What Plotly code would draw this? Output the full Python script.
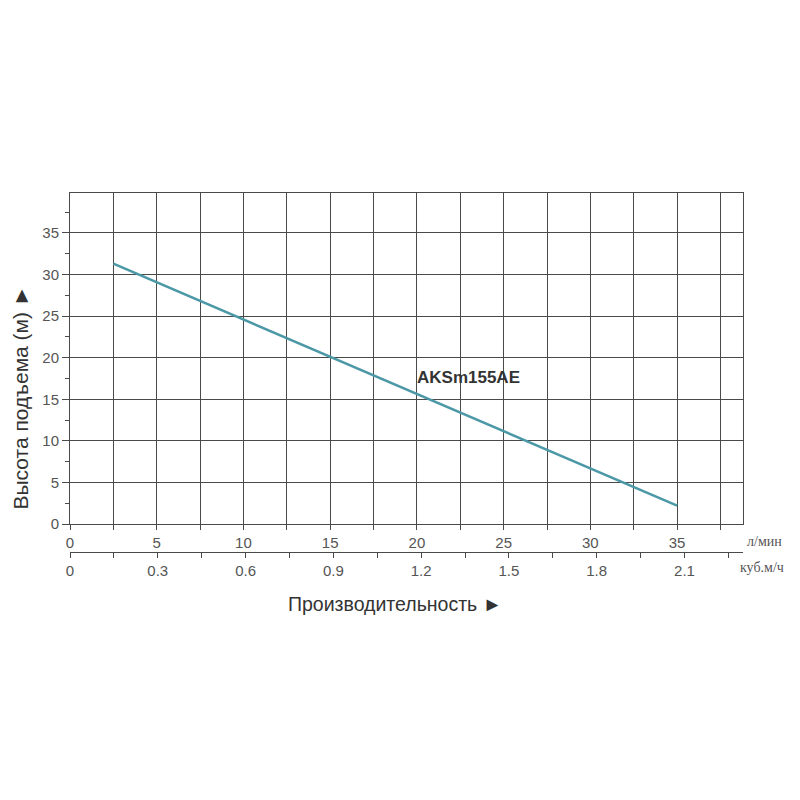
import plotly.graph_objects as go

# Data
flow_lpm = [2.5, 35]
head_m = [31.3, 2.2]
series_name = "AKSm155AE"
x_ticks_lpm = [0, 5, 10, 15, 20, 25, 30, 35]
x_ticks_m3h = ["0", "0.3", "0.6", "0.9", "1.2", "1.5", "1.8", "2.1"]
y_ticks = [0, 5, 10, 15, 20, 25, 30, 35]

GRID = "#4a4a4a"
TXT = "#555555"

x_max = 38.8
xvals = [i * 2.5 for i in range(16)]
xtext = [str(int(v)) if v % 5 == 0 else "" for v in xvals]
x2vals = [round(i * 0.15, 2) for i in range(16)]
x2text = []
for i in range(16):
    x2text.append(x_ticks_m3h[i // 2] if i % 2 == 0 else "")

fig = go.Figure()
fig.add_trace(go.Scatter(x=flow_lpm, y=head_m, mode="lines",
                         line=dict(color="#4b98a6", width=2.5),
                         showlegend=False, hoverinfo="skip"))
# invisible trace for secondary axis
fig.add_trace(go.Scatter(x=[0, 2.1], y=[None, None], xaxis="x2", yaxis="y",
                         mode="lines", showlegend=False, hoverinfo="skip"))

fig.update_layout(
    width=800, height=800,
    margin=dict(l=62, r=65, t=185, b=188, autoexpand=False),
    plot_bgcolor="white", paper_bgcolor="white",
    font=dict(family="Liberation Sans, Arial, sans-serif", color=TXT, size=15),
    xaxis=dict(range=[0, x_max], tickmode="array", tickvals=xvals, ticktext=xtext,
               showgrid=True, gridcolor=GRID, gridwidth=1,
               showline=True, linecolor=GRID, linewidth=1, mirror=True,
               ticks="outside", ticklen=5, tickcolor=GRID, zeroline=False,
               tickfont=dict(size=15, color=TXT)),
    xaxis2=dict(range=[0, x_max * 0.06 * 0.988], domain=[0, 0.988],
                overlaying="x", anchor="free", position=0.159, side="bottom",
                tickmode="array", tickvals=x2vals, ticktext=x2text,
                showgrid=False, showline=True, linecolor=GRID, linewidth=1,
                ticks="outside", ticklen=5, tickcolor=GRID, zeroline=False,
                tickfont=dict(size=15, color=TXT)),
    yaxis=dict(range=[0, 39.8], domain=[0.2248, 1], tickmode="array",
               tickvals=y_ticks, ticktext=[str(v) for v in y_ticks],
               showgrid=True, gridcolor=GRID, gridwidth=1,
               showline=True, linecolor=GRID, linewidth=1, mirror=True,
               ticks="outside", ticklen=7, tickcolor=GRID, zeroline=False,
               minor=dict(dtick=2.5, tick0=0, ticks="outside", ticklen=4,
                          tickcolor=GRID, showgrid=False),
               tickfont=dict(size=15, color=TXT)),
)

fig.add_annotation(x=19.9, y=17.6, xref="x", yref="y", text="<b>" + series_name + "</b>",
                   showarrow=False, xanchor="left", yanchor="middle",
                   font=dict(size=17, color="#333333"))
fig.add_annotation(x=1.003, y=0.185, xref="paper", yref="paper", text="л/мин",
                   showarrow=False, xanchor="left", yanchor="middle",
                   font=dict(family="Liberation Serif, Times New Roman, serif", size=14, color=TXT))
fig.add_annotation(x=0.993, y=0.122, xref="paper", yref="paper", text="куб.м/ч",
                   showarrow=False, xanchor="left", yanchor="middle",
                   font=dict(family="Liberation Serif, Times New Roman, serif", size=14, color=TXT))
fig.add_annotation(x=0.483, y=0.037, xref="paper", yref="paper", text="Производительность ►",
                   showarrow=False, xanchor="center", yanchor="middle",
                   font=dict(size=19.5, color="#333333"))
fig.add_annotation(x=-0.0735, y=0.52, xref="paper", yref="paper", text="Высота подъема (м) ►",
                   showarrow=False, xanchor="center", yanchor="middle", textangle=-90,
                   font=dict(size=21, color="#333333"))

fig.write_html("out.html")
